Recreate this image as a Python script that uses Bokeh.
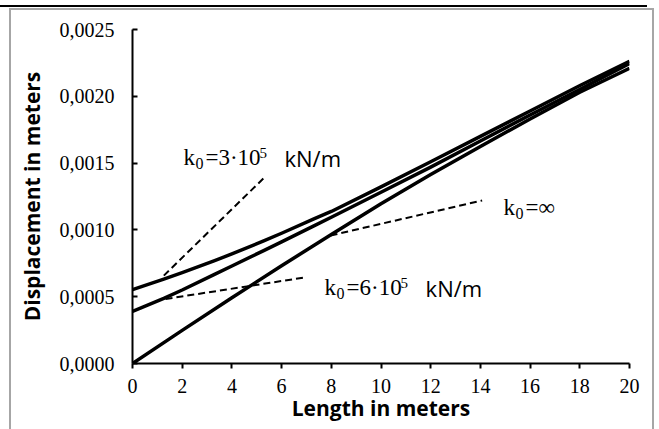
from bokeh.plotting import figure
from bokeh.models import FixedTicker, Range1d, ColumnDataSource, InlineStyleSheet
from bokeh.core.properties import value
from bokeh.embed import file_html
from bokeh.resources import INLINE

# ---- data ----
length_k3 = [0, 1.26, 2, 3.28, 4, 5.28, 6, 7.30, 8, 9.98, 12, 14, 16, 18.03, 20]
disp_k3 = [0.000553, 0.000632, 0.00068, 0.000768, 0.00082, 0.000918, 0.000975,
           0.001082, 0.001138, 0.00132, 0.00151, 0.0017, 0.00189, 0.002083, 0.002262]

length_k6 = [0, 1.26, 2, 3.28, 4, 5.28, 6, 7.30, 8, 9.98, 12, 14, 16, 18.03, 20]
disp_k6 = [0.00039, 0.000488, 0.00055, 0.000665, 0.00073, 0.000845, 0.00091,
           0.00103, 0.001095, 0.00128, 0.00147, 0.001665, 0.00186, 0.002055, 0.002245]

length_inf = [0, 2, 4, 6, 8, 10, 12, 14, 16, 18, 20]
disp_inf = [0, 0.000248, 0.000492, 0.000732, 0.000965, 0.001196, 0.001415,
            0.001625, 0.00183, 0.00203, 0.00221]

# dashed leader lines (start on curve, end near label)
leader_x = [[1.26, 5.35], [1.33, 6.96], [7.97, 14.07]]
leader_y = [[0.000658, 0.00140], [0.000483, 0.000645], [0.000958, 0.00122]]

# curve labels
label_x = [2.05, 7.73, 14.93]
label_y = [0.001541, 0.000568, 0.001168]
label_main = ["=3·10", "=6·10", "=∞"]
label_sup = ["5", "5", ""]
label_unit = ["kN/m", "kN/m", ""]

x_ticks = [0, 2, 4, 6, 8, 10, 12, 14, 16, 18, 20]
x_tick_labels = ["0", "2", "4", "6", "8", "10", "12", "14", "16", "18", "20"]
y_ticks = [0.0, 0.0005, 0.001, 0.0015, 0.002, 0.0025]
y_tick_labels = ["0,0000", "0,0005", "0,0010", "0,0015", "0,0020", "0,0025"]

SERIF = "Liberation Serif"
SANS = "Open Sans"

p = figure(width=659, height=429,
           x_range=Range1d(0, 20), y_range=Range1d(0, 0.0025),
           output_backend="svg", toolbar_location=None,
           min_border_left=132, min_border_right=30,
           min_border_top=29, min_border_bottom=66)
p.outline_line_color = None
p.grid.visible = False
p.background_fill_color = "white"
p.border_fill_color = "white"

# curves
for xs, ys in [(length_k3, disp_k3), (length_k6, disp_k6), (length_inf, disp_inf)]:
    p.line(xs, ys, line_color="black", line_width=3.5, line_join="round")

# leaders
p.multi_line(leader_x, leader_y, line_color="black", line_width=2, line_dash="7 4")

# labels
src = ColumnDataSource(dict(
    x=label_x, y=label_y, main=label_main, sup=label_sup, unit=label_unit,
    k=["k"] * 3, sub=["0"] * 3,
    main_off=[22, 22, 22], sup_off=[76, 76, 0], unit_off=[101, 101, 0],
))
p.text(x="x", y="y", text="k", source=src, text_font=value(SERIF),
       text_font_size="23px", text_color="black", text_baseline="alphabetic")
p.text(x="x", y="y", text="sub", source=src, x_offset=12, y_offset=6,
       text_font=value(SERIF), text_font_size="16px", text_color="black",
       text_baseline="alphabetic")
p.text(x="x", y="y", text="main", source=src, x_offset="main_off",
       text_font=value(SERIF), text_font_size="23px", text_color="black",
       text_baseline="alphabetic")
p.text(x="x", y="y", text="sup", source=src, x_offset="sup_off", y_offset=-5,
       text_font=value(SERIF), text_font_size="15px", text_color="black",
       text_baseline="alphabetic")
p.text(x="x", y="y", text="unit", source=src, x_offset="unit_off",
       text_font=value(SANS), text_font_size="22px", text_color="black",
       text_baseline="alphabetic")

# axes
xa = p.xaxis[0]
xa.ticker = FixedTicker(ticks=x_ticks)
xa.major_label_overrides = {t: s for t, s in zip(x_ticks, x_tick_labels)}
xa.major_tick_out = 5
xa.major_tick_in = 0
xa.minor_tick_out = 0
xa.minor_tick_in = 0
xa.axis_line_width = 2
xa.major_tick_line_width = 2
xa.axis_line_color = "black"
xa.major_tick_line_color = "black"
xa.major_label_text_font = SERIF
xa.major_label_text_font_size = "20px"
xa.major_label_text_color = "black"
xa.major_label_standoff = 10
xa.axis_label = "Length in meters"
xa.axis_label_text_font = SANS
xa.axis_label_text_font_style = "bold"
xa.axis_label_text_font_size = "21px"
xa.axis_label_text_color = "black"
xa.axis_label_standoff = -2

ya = p.yaxis[0]
ya.ticker = FixedTicker(ticks=y_ticks)
ya.major_label_overrides = {t: s for t, s in zip(y_ticks, y_tick_labels)}
ya.major_tick_out = 0
ya.major_tick_in = 5
ya.minor_tick_out = 0
ya.minor_tick_in = 0
ya.axis_line_width = 2
ya.major_tick_line_width = 2
ya.axis_line_color = "black"
ya.major_tick_line_color = "black"
ya.major_label_text_font = SERIF
ya.major_label_text_font_size = "20px"
ya.major_label_text_color = "black"
ya.major_label_standoff = 18
ya.axis_label = "Displacement in meters"
ya.axis_label_text_font = SANS
ya.axis_label_text_font_style = "bold"
ya.axis_label_text_font_size = "21px"
ya.axis_label_text_color = "black"
ya.axis_label_standoff = 11

# page frame decorations (gray box and black rule at the top)
p.stylesheets = [InlineStyleSheet(css="""
:host { position: relative; }
:host::before { content: ""; position: absolute; left: 0px; top: 5px;
  width: 647px; height: 2px; background: black; z-index: 20; pointer-events: none; }
:host::after { content: ""; position: absolute; left: 9px; top: 8px;
  width: 645px; height: 421px; box-sizing: border-box;
  border: 2px solid #a6a6a6; border-bottom: none; z-index: 20; pointer-events: none; }
""")]

open("out.html", "w").write(file_html(p, INLINE))
